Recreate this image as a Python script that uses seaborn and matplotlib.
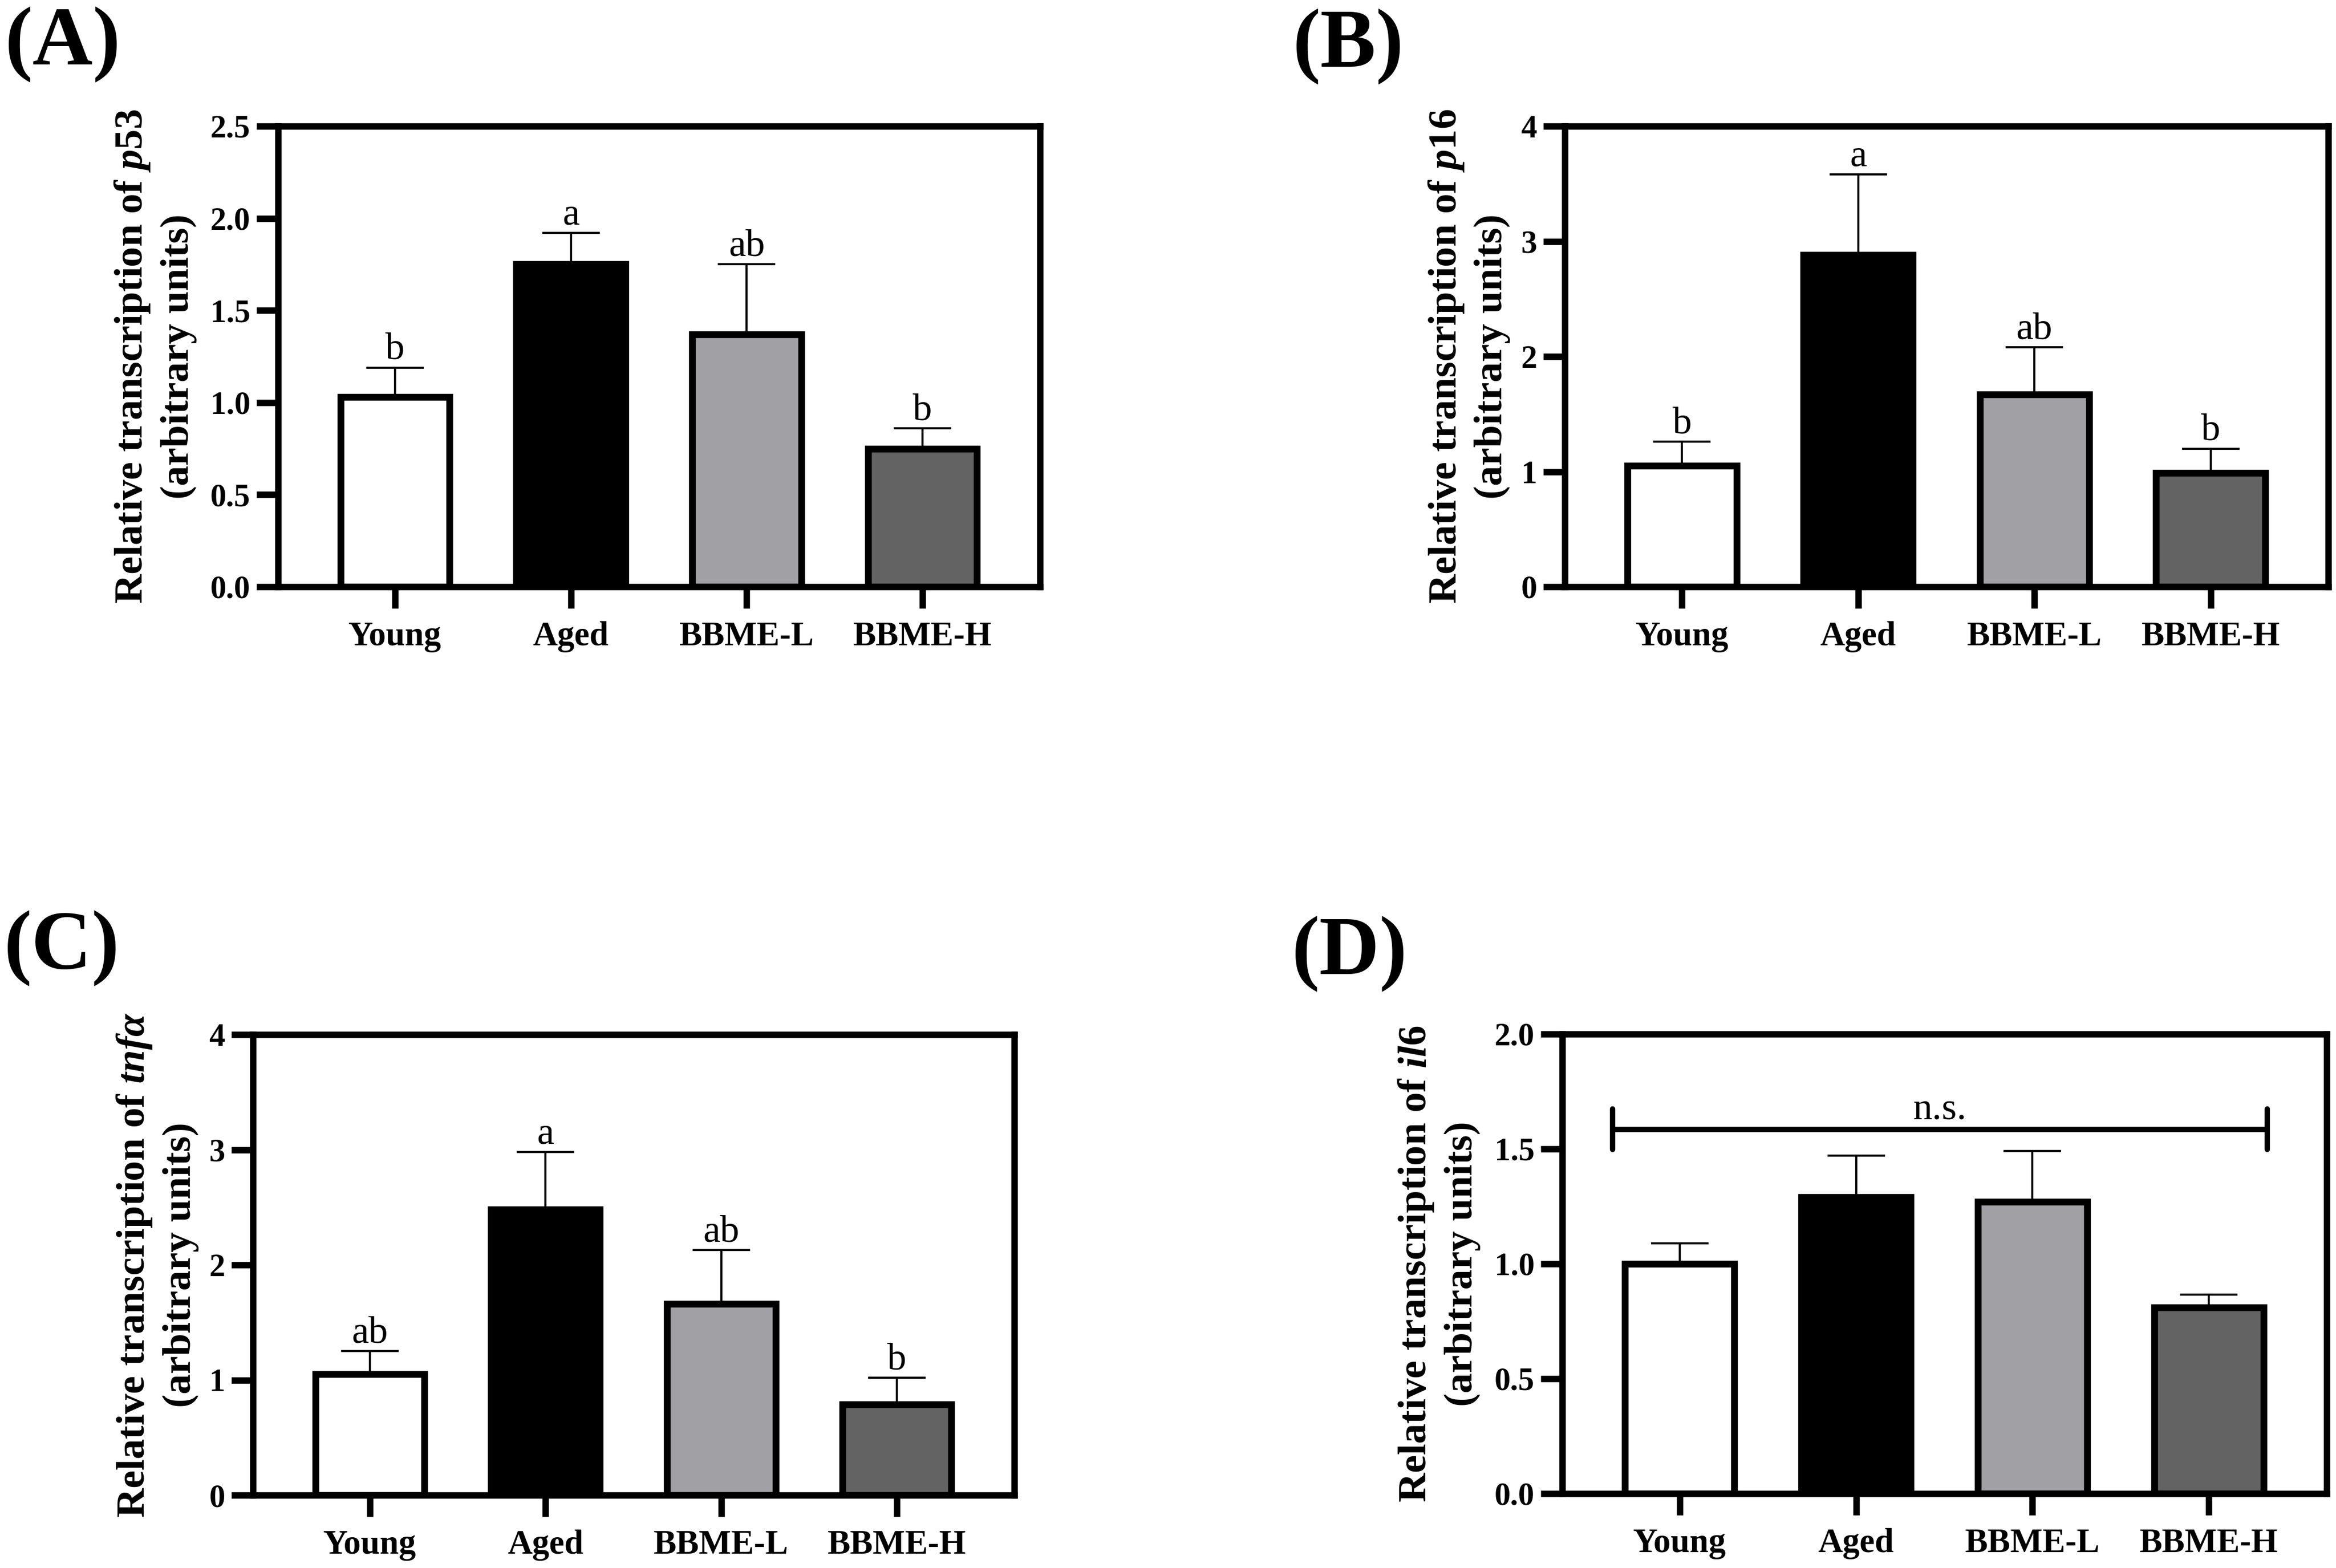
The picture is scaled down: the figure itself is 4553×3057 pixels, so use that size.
import matplotlib
matplotlib.use("Agg")
import matplotlib.pyplot as plt
import seaborn as sns

# groups and colours
groups = ["Young", "Aged", "BBME-L", "BBME-H"]
bar_colors = ["#FFFFFF", "#000000", "#A1A1A5", "#636363"]

# (A) p53
p53_mean = [1.03, 1.75, 1.37, 0.75]
p53_err = [0.16, 0.17, 0.38, 0.11]
p53_letters = ["b", "a", "ab", "b"]

# (B) p16
p16_mean = [1.05, 2.88, 1.67, 0.99]
p16_err = [0.21, 0.70, 0.41, 0.21]
p16_letters = ["b", "a", "ab", "b"]

# (C) tnf-alpha
tnfa_mean = [1.05, 2.48, 1.66, 0.79]
tnfa_err = [0.20, 0.50, 0.47, 0.23]
tnfa_letters = ["ab", "a", "ab", "b"]

# (D) il6
il6_mean = [1.00, 1.29, 1.27, 0.81]
il6_err = [0.09, 0.18, 0.22, 0.055]

sns.set_theme(style="ticks")
plt.rcParams['font.family'] = ['Liberation Serif', 'DejaVu Serif']
plt.rcParams['font.weight'] = 'bold'
plt.rcParams['axes.labelweight'] = 'bold'
# seaborn greys the text, the reference is pure black
for key in ['text.color', 'axes.labelcolor', 'xtick.color', 'ytick.color', 'axes.edgecolor']:
    plt.rcParams[key] = 'black'
plt.rcParams['mathtext.fontset'] = 'custom'
plt.rcParams['mathtext.rm'] = 'Liberation Serif:bold'
plt.rcParams['mathtext.it'] = 'Liberation Serif:italic:bold'
plt.rcParams['mathtext.bf'] = 'Liberation Serif:bold'

W, H = 4553, 3057
fig = plt.figure(figsize=(W / 300, H / 300), dpi=300)


def px_axes(left, right, top, bottom):
    # axes placed from pixel coordinates of the spines
    return fig.add_axes([left / W, 1 - bottom / H, (right - left) / W, (bottom - top) / H])


def draw_panel(ax, means, errs, letters, ylabel, ylim, yticks, fmt, label_x):
    sns.barplot(x=groups, y=means, hue=groups, palette=bar_colors, legend=False,
                width=0.62, edgecolor="black", linewidth=3.2, errorbar=None,
                saturation=1, ax=ax, zorder=2)
    ax.errorbar(range(len(groups)), means, yerr=[[0] * len(errs), errs], fmt="none",
                ecolor="black", elinewidth=1.0, capsize=13.5, capthick=1.0, zorder=3)
    if letters:
        for i, (m, e, t) in enumerate(zip(means, errs, letters)):
            ax.annotate(t, (i, m + e), xytext=(0, 4), textcoords="offset points",
                        ha="center", va="baseline", fontsize=18, fontweight="normal")
    ax.set_xlim(-0.665, 3.668)
    ax.set_ylim(*ylim)
    ax.set_yticks(yticks)
    ax.set_yticklabels([fmt.format(t) for t in yticks])
    ax.set_xlabel("")
    ax.set_ylabel(ylabel, fontsize=19, linespacing=1.3, va="center")
    ax.yaxis.set_label_coords(label_x, 0.5)
    for s in ax.spines.values():
        s.set_visible(True)
        s.set_linewidth(3.0)
        s.set_color("black")
    ax.tick_params(axis="both", direction="out", length=10, width=3, color="black",
                   labelcolor="black")
    ax.tick_params(axis="y", labelsize=15, pad=3)
    ax.tick_params(axis="x", labelsize=16, pad=6)


axA = px_axes(542, 2027, 246, 1144)
draw_panel(axA, p53_mean, p53_err, p53_letters,
           "Relative transcription of $\\mathit{p53}$\n(arbitrary units)",
           (0, 2.5), [0, 0.5, 1.0, 1.5, 2.0, 2.5], "{:.1f}", -0.1616)

axB = px_axes(3050, 4538, 246, 1144)
draw_panel(axB, p16_mean, p16_err, p16_letters,
           "Relative transcription of $\\mathit{p16}$\n(arbitrary units)",
           (0, 4), [0, 1, 2, 3, 4], "{:.0f}", -0.126)

axC = px_axes(493, 1977, 2017, 2915)
draw_panel(axC, tnfa_mean, tnfa_err, tnfa_letters,
           "Relative transcription of $\\mathit{tnf\\alpha}$\n(arbitrary units)",
           (0, 4), [0, 1, 2, 3, 4], "{:.0f}", -0.126)

axD = px_axes(3045, 4535, 2016, 2912)
draw_panel(axD, il6_mean, il6_err, None,
           "Relative transcription of $\\mathit{il6}$\n(arbitrary units)",
           (0, 2.0), [0, 0.5, 1.0, 1.5, 2.0], "{:.1f}", -0.1616)
# n.s. bracket over all groups
ns_l, ns_r, ns_y, ns_h = -0.38, 3.33, 1.585, 0.088
axD.plot([ns_l, ns_r], [ns_y, ns_y], color="black", lw=2.5, zorder=4, solid_capstyle="butt")
axD.plot([ns_l, ns_l], [ns_y - ns_h, ns_y + ns_h], color="black", lw=2.5, zorder=4)
axD.plot([ns_r, ns_r], [ns_y - ns_h, ns_y + ns_h], color="black", lw=2.5, zorder=4)
axD.annotate("n.s.", ((ns_l + ns_r) / 2, ns_y), xytext=(0, 5), textcoords="offset points",
             ha="center", va="baseline", fontsize=18, fontweight="normal")

# panel letters
for lab, x, y in [("(A)", 10, 13), ("(B)", 2520, 17), ("(C)", 8, 1775), ("(D)", 2518, 1786)]:
    fig.text(x / W, 1 - y / H, lab, ha="left", va="top", fontsize=39, fontweight="bold")

fig.savefig("out.png", dpi=300)
